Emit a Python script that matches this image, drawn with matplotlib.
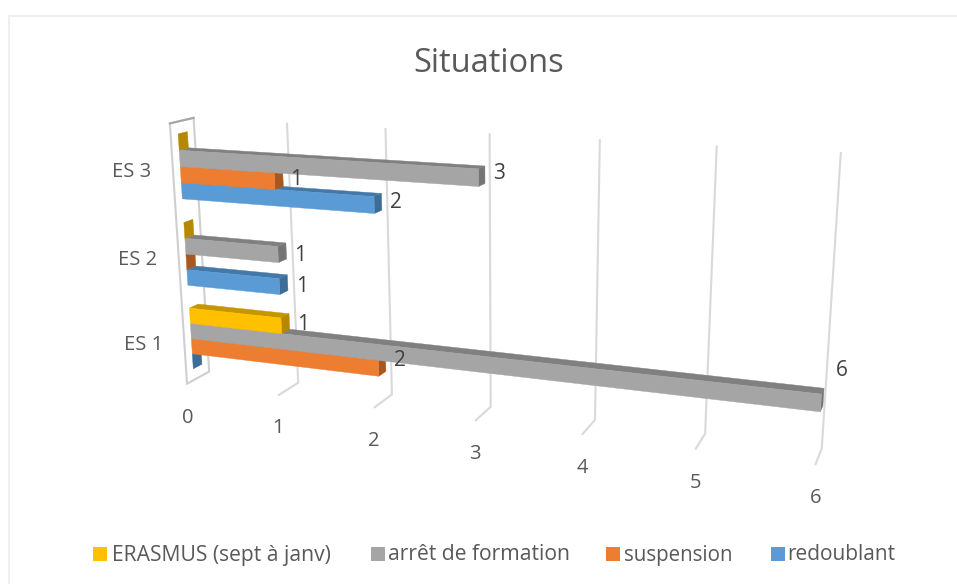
import numpy as np
import matplotlib
matplotlib.use('Agg')
import matplotlib.pyplot as plt
from matplotlib.patches import Polygon, Rectangle

plt.rcParams['font.family'] = ['Open Sans', 'DejaVu Sans']

categories = ['ES 1', 'ES 2', 'ES 3']
# series from bottom to top inside each group
redoublant = [0, 1, 2]
suspension = [2, 0, 1]
arret = [6, 1, 3]
erasmus = [1, 0, 0]
series_names = ['redoublant', 'suspension', 'arrêt de formation', 'ERASMUS (sept à janv)']
series_values = [redoublant, suspension, arret, erasmus]
value_ticks = [0, 1, 2, 3, 4, 5, 6]

colors = ['#5B9BD5', '#ED7D31', '#A5A5A5', '#FFC000']
cap_colors = ['#3D6D97', '#A8581F', '#757575', '#B48800']
top_colors = ['#4478A8', '#B8601F', '#808080', '#C69600']

GAP = 0.27
DEPTH = (0.31, 0.70)

# camera calibration: (value, height, depth) -> pixel, on the floor and walls
world = np.array([
    [0, 1, 1], [0, 0, 1], [0, 1, 0], [0, 0, 0],
    [1, 1, 1], [1, 0, 1], [1, 0, 0],
    [2, 1, 1], [2, 0, 1], [2, 0, 0],
    [3, 1, 1], [3, 0, 1], [3, 0, 0],
    [4, 1, 1], [4, 0, 1], [4, 0, 0],
    [5, 1, 1], [5, 0, 1], [5, 0, 0],
    [6, 1, 1], [6, 0, 1], [6, 0, 0],
], dtype=float)
pixels = np.array([
    [194, 118], [209, 372], [170, 123], [187, 383],
    [287, 123], [298, 383], [278, 396],
    [385, 128], [392, 394], [374, 408],
    [489, 133], [491, 407], [475, 421],
    [600, 139], [595, 420], [582, 435],
    [717, 146], [705, 433], [695, 450],
    [841, 152], [822, 448], [815, 465],
], dtype=float)


def fit_camera(w, p):
    rows = []
    for (a, b, c), (x, y) in zip(w, p):
        rows.append([a, b, c, 1, 0, 0, 0, 0, -x * a, -x * b, -x * c, -x])
        rows.append([0, 0, 0, 0, a, b, c, 1, -y * a, -y * b, -y * c, -y])
    u, s, vt = np.linalg.svd(np.array(rows))
    return vt[-1].reshape(3, 4)


cam = fit_camera(world, pixels)


def proj(v, h, d):
    q = cam @ np.array([v, h, d, 1.0])
    return q[0] / q[2], q[1] / q[2]


fig = plt.figure(figsize=(9.57, 5.84), dpi=100)
ax = fig.add_axes([0, 0, 1, 1])
ax.set_xlim(0, 957)
ax.set_ylim(584, 0)
ax.axis('off')

# chart frame, only top and left edges fall inside the figure
ax.plot([8.5, 8.5, 957], [584, 15.5, 15.5], color='#EFEFEF', lw=1.5, solid_joinstyle='miter')

ax.text(489, 63, 'Situations', ha='center', va='center', fontsize=23.5, color='#595959')

# gridlines on the back wall and floor
grid_c = '#D9D9D9'
for v in value_ticks[1:]:
    pts = [proj(v, 1, 1), proj(v, 0, 1), proj(v, 0, 0)]
    ax.plot(*zip(*pts), color=grid_c, lw=1.5, solid_capstyle='butt', zorder=1)
    tx, ty = proj(v, 0, 0)
    ax.text(tx, ty + 33, str(v), ha='center', va='center', fontsize=14.5, color='#595959')
tx, ty = proj(0, 0, 0)
ax.text(tx + 1, ty + 34, '0', ha='center', va='center', fontsize=14.5, color='#595959')

# side wall at zero
wall = [proj(0, 1, 0), proj(0, 1, 1), proj(0, 0, 1), proj(0, 0, 0)]
ax.add_patch(Polygon(wall, closed=True, fill=False, ec='#CFCFCF', lw=1.5, zorder=1))
ax.plot(*zip(wall[0], wall[1]), color='#A6A6A6', lw=1.5, zorder=1)

band_w = (1 - GAP) / len(series_values)
z = 2
# label offsets from the bar end, keyed by (category, series)
label_offset = {
    (2, 2): (14, -1), (2, 1): (13, 1), (2, 0): (14, 1),
    (1, 2): (14, 5), (1, 0): (14, 4),
    (0, 3): (14, 3), (0, 1): (14, -3), (0, 2): (18, -27),
}
for i, cat in enumerate(categories):
    cx, cy = proj(0, (i + 0.5) / len(categories), 0)
    ax.text(cx - 41, cy + 3, cat, ha='center', va='center', fontsize=14.5, color='#595959')
    for j, vals in enumerate(series_values):
        val = vals[i]
        h0 = (i + GAP / 2 + j * band_w) / len(categories)
        h1 = h0 + band_w / len(categories)
        d0, d1 = DEPTH
        cap = [proj(val, h0, d0), proj(val, h0, d1), proj(val, h1, d1), proj(val, h1, d0)]
        ax.add_patch(Polygon(cap, closed=True, fc=cap_colors[j], ec=cap_colors[j], lw=0.3, zorder=z))
        if val > 0:
            top = [proj(0, h1, d0), proj(val, h1, d0), proj(val, h1, d1), proj(0, h1, d1)]
            front = [proj(0, h0, d0), proj(val, h0, d0), proj(val, h1, d0), proj(0, h1, d0)]
            ax.add_patch(Polygon(top, closed=True, fc=top_colors[j], ec=top_colors[j], lw=0.3, zorder=z))
            ax.add_patch(Polygon(front, closed=True, fc=colors[j], ec=colors[j], lw=0.3, zorder=z))
            lx, ly = proj(val, (h0 + h1) / 2, d1)
            dx, dy = label_offset[(i, j)]
            ax.text(lx + dx, ly + dy, str(val), ha='center', va='center',
                    fontsize=15, color='#404040', zorder=50)
        z += 1

# legend row
legend_x = [93, 371, 606, 771]
text_x = [112, 388, 624, 787]
legend_size = [15.2, 15.2, 14.8, 15]
for k, j in enumerate([3, 2, 1, 0]):
    ax.add_patch(Rectangle((legend_x[k], 547), 14, 14, fc=colors[j], ec='none'))
    ax.text(text_x[k], 555, series_names[j], ha='left', va='center', fontsize=legend_size[k], color='#595959')

fig.savefig('out.png', dpi=100)
